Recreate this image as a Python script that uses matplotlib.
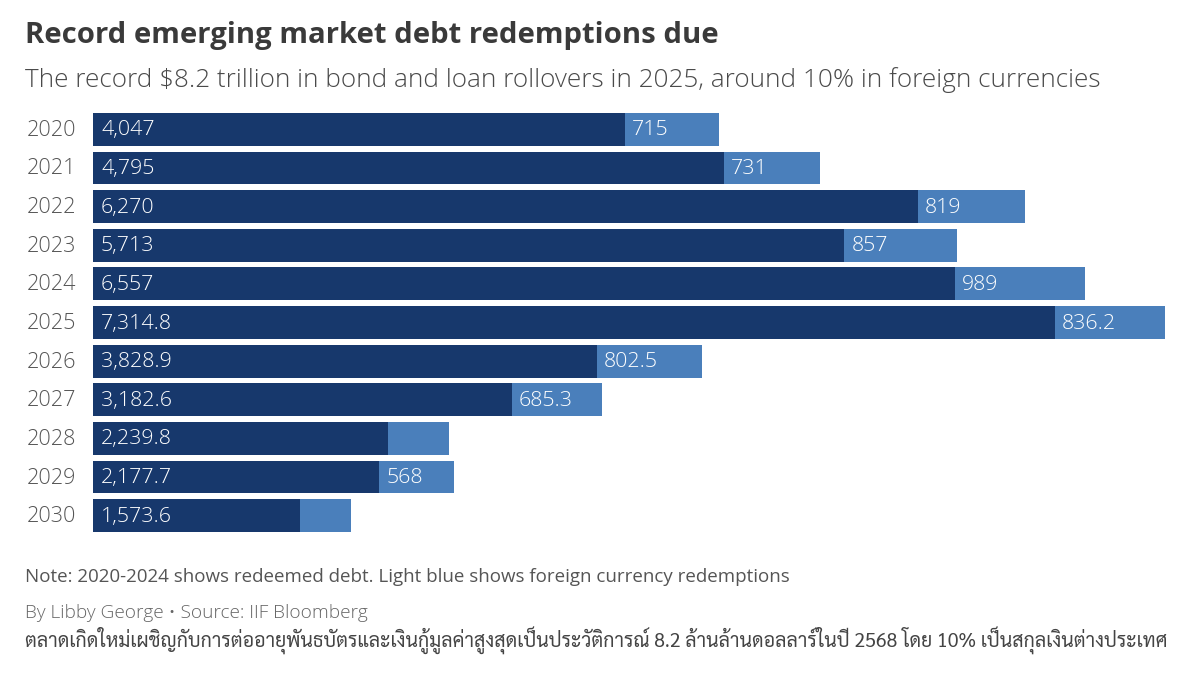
"""Emerging market debt redemptions, stacked bars."""

import matplotlib
matplotlib.use("Agg")
import matplotlib.pyplot as plt
import numpy as np

years = ["2020", "2021", "2022", "2023", "2024", "2025",
         "2026", "2027", "2028", "2029", "2030"]
local_debt = [4047, 4795, 6270, 5713, 6557, 7314.8,
              3828.9, 3182.6, 2239.8, 2177.7, 1573.6]
foreign_debt = [715, 731, 819, 857, 989, 836.2,
                802.5, 685.3, 468, 568, 388]
local_labels = ["4,047", "4,795", "6,270", "5,713", "6,557", "7,314.8",
                "3,828.9", "3,182.6", "2,239.8", "2,177.7", "1,573.6"]
foreign_labels = ["715", "731", "819", "857", "989", "836.2",
                  "802.5", "685.3", "", "568", ""]

title = "Record emerging market debt redemptions due"
subtitle = "The record $8.2 trillion in bond and loan rollovers in 2025, around 10% in foreign currencies"
note = "Note: 2020-2024 shows redeemed debt. Light blue shows foreign currency redemptions"
byline = "By Libby George \u2022 Source: IIF Bloomberg"
thai = ("ตลาดเกิดใหม่เผชิญกับการต่ออายุพันธบัตรและเงินกู้มูลค่าสูงสุดเป็นประวัติการณ์ "
        "8.2 ล้านล้านดอลลาร์ในปี 2568 โดย 10% เป็นสกุลเงินต่างประเทศ")

DARK = "#17386c"
LIGHT = "#4a7fbb"
TEXT = "#4a4a4a"

plt.rcParams["font.family"] = ["Open Sans", "Noto Sans", "DejaVu Sans"]
THAI_FONTS = ["Sarabun", "Athiti", "Bai Jamjuree", "Open Sans"]

W, H = 1200, 675
fig = plt.figure(figsize=(W / 100, H / 100), dpi=100, facecolor="white")

# axes covers bar area, x scale fitted to 2025 bar reaching 1165px
ax = fig.add_axes([93 / W, 1 - 535 / H, (1165 - 93) / W, (535 - 110) / H])
y = np.arange(len(years))
ax.barh(y, local_debt, height=0.85, color=DARK)
ax.barh(y, foreign_debt, height=0.85, left=local_debt, color=LIGHT)
ax.set_xlim(0, 8151)
ax.set_ylim(len(years) - 0.5, -0.5)
ax.axis("off")

for i, yr in enumerate(years):
    ax.annotate(yr, (0, i), xytext=(-66, -1), textcoords="offset pixels", ha="left",
                va="center", fontsize=15.6, color="#555555", fontweight=300)
    ax.annotate(local_labels[i], (0, i), xytext=(8, -1), textcoords="offset pixels",
                ha="left", va="center", fontsize=15.4, color="white", fontweight=300)
    if foreign_labels[i]:
        ax.annotate(foreign_labels[i], (local_debt[i], i), xytext=(7, -1),
                    textcoords="offset pixels", ha="left", va="center",
                    fontsize=15.4, color="white", fontweight=300)

fig.text(25 / W, 1 - 35 / H, title, fontsize=21.1, fontweight="bold", color="#3a3a3a", va="center")
fig.text(25 / W, 1 - 80 / H, subtitle, fontsize=18.78, color=TEXT, va="center", fontweight=300)
fig.text(25 / W, 1 - 577 / H, note, fontsize=13.5, color="#555555", va="center")
fig.text(25 / W, 1 - 613 / H, byline, fontsize=13.7, color="#666666", va="center", fontweight=300)
fig.text(25 / W, 1 - 641 / H, thai, fontsize=14.05, color="#444444", va="center", family=THAI_FONTS)

fig.savefig("out.png", dpi=100)
